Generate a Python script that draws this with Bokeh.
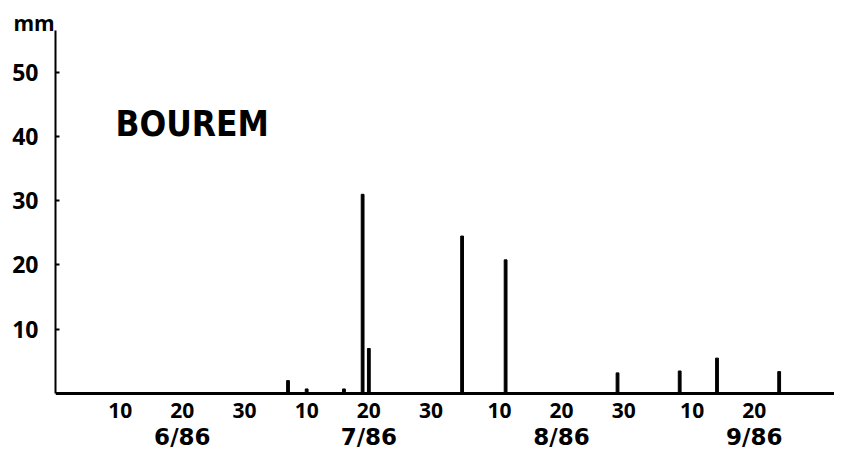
import pandas as pd
from bokeh.plotting import figure
from bokeh.models import FixedTicker, Label, Range1d, Title, Span, ColumnDataSource
from bokeh.core.properties import value
from bokeh.embed import file_html
from bokeh.resources import INLINE

# ---- data ----
start_date = "1986-06-01"
rain_dates = ["1986-07-07", "1986-07-10", "1986-07-16", "1986-07-19", "1986-07-20",
              "1986-08-04", "1986-08-11", "1986-08-29", "1986-09-08", "1986-09-14",
              "1986-09-24"]
rain_mm = [2.0, 0.7, 0.7, 31.0, 7.0, 24.5, 20.8, 3.2, 3.5, 5.5, 3.4]
months = [6, 7, 8, 9]
month_labels = ["6/86", "7/86", "8/86", "9/86"]
month_tick_days = [[10, 20, 30], [10, 20, 30], [10, 20, 30], [10, 20]]
month_label_day = 20
y_ticks = [10, 20, 30, 40, 50]
y_unit = "mm"
station = "BOUREM"

t0 = pd.Timestamp(start_date)
xs = [(pd.Timestamp(d) - t0).days for d in rain_dates]
tick_pos, tick_txt = [], []
for m, days in zip(months, month_tick_days):
    for d in days:
        tick_pos.append((pd.Timestamp(1986, m, d) - t0).days)
        tick_txt.append(str(d))
month_pos = [(pd.Timestamp(1986, m, month_label_day) - t0).days for m in months]

FONT = "Open Sans"
DAY_Y = -2.65     # label rows below the zero line (data units, mm)
MONTH_Y = -6.75

p = figure(width=834, height=450, output_backend="svg", toolbar_location=None,
           x_range=Range1d(-1.4, 123.9), y_range=Range1d(-8.88, 56.5),
           min_border_left=55, min_border_right=0, min_border_top=30,
           min_border_bottom=0)
p.outline_line_color = None
p.grid.grid_line_color = None
p.background_fill_color = "white"
p.xaxis.visible = False

# zero line (x axis)
p.add_layout(Span(location=0, dimension="width", line_color="black", line_width=3))

# rainfall bars
p.vbar(x=xs, top=rain_mm, width=0.45, color="black")

# day tick labels and month labels
day_src = ColumnDataSource(dict(x=tick_pos, y=[DAY_Y] * len(tick_pos), t=tick_txt))
p.text(x="x", y="y", text="t", source=day_src, text_align="center",
       text_baseline="middle", text_font=value(FONT), text_font_style="bold",
       text_font_size="21px", text_color="black")
mon_src = ColumnDataSource(dict(x=month_pos, y=[MONTH_Y] * len(month_pos), t=month_labels))
p.text(x="x", y="y", text="t", source=mon_src, text_align="center",
       text_baseline="middle", text_font=value("DejaVu Sans"), text_font_style="bold",
       text_font_size="23px", text_color="black")

# y axis
ya = p.yaxis[0]
ya.bounds = (0, 56.5)
ya.ticker = FixedTicker(ticks=y_ticks)
ya.axis_line_width = 2
ya.axis_line_color = "black"
ya.major_tick_in = 4
ya.major_tick_out = 0
ya.major_tick_line_width = 2
ya.minor_tick_line_color = None
ya.major_label_standoff = 17
ya.major_label_text_font = FONT
ya.major_label_text_font_style = "bold"
ya.major_label_text_font_size = "23px"
ya.major_label_text_color = "black"

# unit label as title at the top-left
p.title = Title(text=y_unit, align="left", offset=-42, standoff=-13,
                text_font=FONT, text_font_style="bold", text_font_size="21px",
                text_color="black")

# station name
p.add_layout(Label(x=8.25, y=42.0, text=station, text_align="left",
                   text_baseline="alphabetic", text_font="DejaVu Sans Condensed",
                   text_font_style="bold", text_font_size="35px",
                   text_color="black"))

open("out.html", "w").write(file_html(p, INLINE))
